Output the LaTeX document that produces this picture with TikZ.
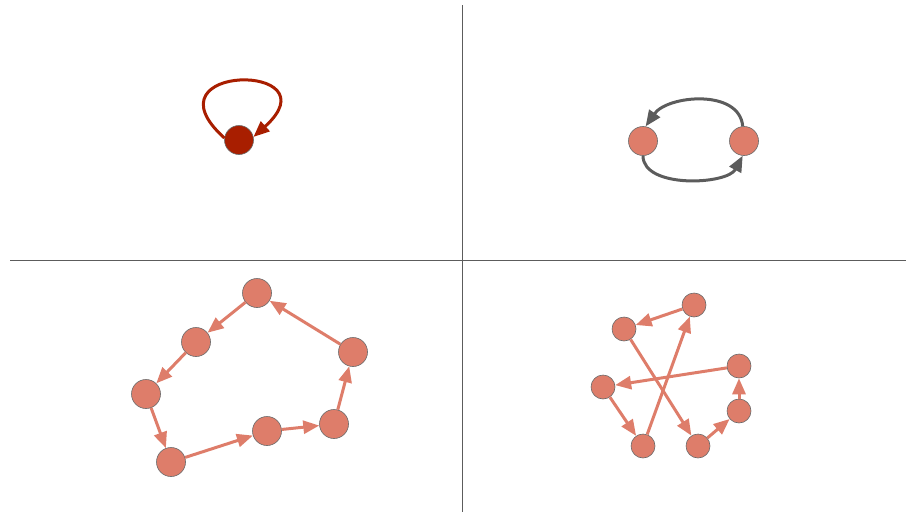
\documentclass[tikz,border=0pt]{standalone}
\usetikzlibrary{arrows.meta}
\definecolor{salmon}{RGB}{222,125,106}
\definecolor{darkred}{RGB}{168,30,0}
\definecolor{arcgrey}{RGB}{92,92,92}
\definecolor{bordergrey}{RGB}{105,105,105}
\tikzset{
  vtx/.style={circle,draw=bordergrey,line width=0.6pt,fill=salmon,minimum size=#1,inner sep=0pt},
  vtx/.default=29pt,
  tip/.style={-{Triangle[length=16pt,width=13pt]}},
  edge/.style={draw=salmon,line width=3pt,tip},
  arc/.style={draw=arcgrey,line width=3pt,tip},
  panel/.style={draw=arcgrey,line width=0.6pt}
}
\begin{document}
\begin{tikzpicture}[x=1pt,y=1pt]
\useasboundingbox (0,0) rectangle (907,-514);
% panel dividers
\coordinate (vt) at (462,-5); \coordinate (vb) at (462,-512);
\coordinate (hl) at (10,-260); \coordinate (hr) at (906,-260);
\draw[panel] (vt) -- (vb);
\draw[panel] (hl) -- (hr);
% top-left: self loop
\node[vtx,fill=darkred] (s) at (239,-140) {};
\draw[draw=darkred,line width=3pt,tip]
  (s.172) .. controls +(138:112) and +(42:112) .. (s.12);
% top-right: two nodes
\node[vtx] (l) at (643,-141) {};
\node[vtx] (r) at (744,-141) {};
\draw[arc] (r.95) .. controls +(95:38) and +(55:38) .. (l.80);
\draw[arc] (l.-90) .. controls +(-90:33) and +(-118:33) .. (r.-95);
% bottom-left: cycle
\node[vtx] (a) at (257,-293) {};
\node[vtx] (b) at (196,-342) {};
\node[vtx] (c) at (146,-394) {};
\node[vtx] (d) at (171,-462) {};
\node[vtx] (e) at (267,-431) {};
\node[vtx] (f) at (334,-424) {};
\node[vtx] (g) at (353,-352) {};
\draw[edge] (a) -- (b);
\draw[edge] (b) -- (c);
\draw[edge] (c) -- (d);
\draw[edge] (d) -- (e);
\draw[edge] (e) -- (f);
\draw[edge] (f) -- (g);
\draw[edge] (g) -- (a);
% bottom-right: crossed cycle
\node[vtx=24pt] (p1) at (694,-305) {};
\node[vtx=24pt] (p2) at (624,-329) {};
\node[vtx=24pt] (p3) at (739,-366) {};
\node[vtx=24pt] (p4) at (603,-387) {};
\node[vtx=24pt] (p5) at (739,-411) {};
\node[vtx=24pt] (p6) at (643,-446) {};
\node[vtx=24pt] (p7) at (698,-446) {};
\draw[edge] (p1) -- (p2);
\draw[edge] (p2) -- (p7);
\draw[edge] (p7) -- (p5);
\draw[edge] (p5) -- (p3);
\draw[edge] (p3) -- (p4);
\draw[edge] (p4) -- (p6);
\draw[edge] (p6) -- (p1);
\end{tikzpicture}
\end{document}
